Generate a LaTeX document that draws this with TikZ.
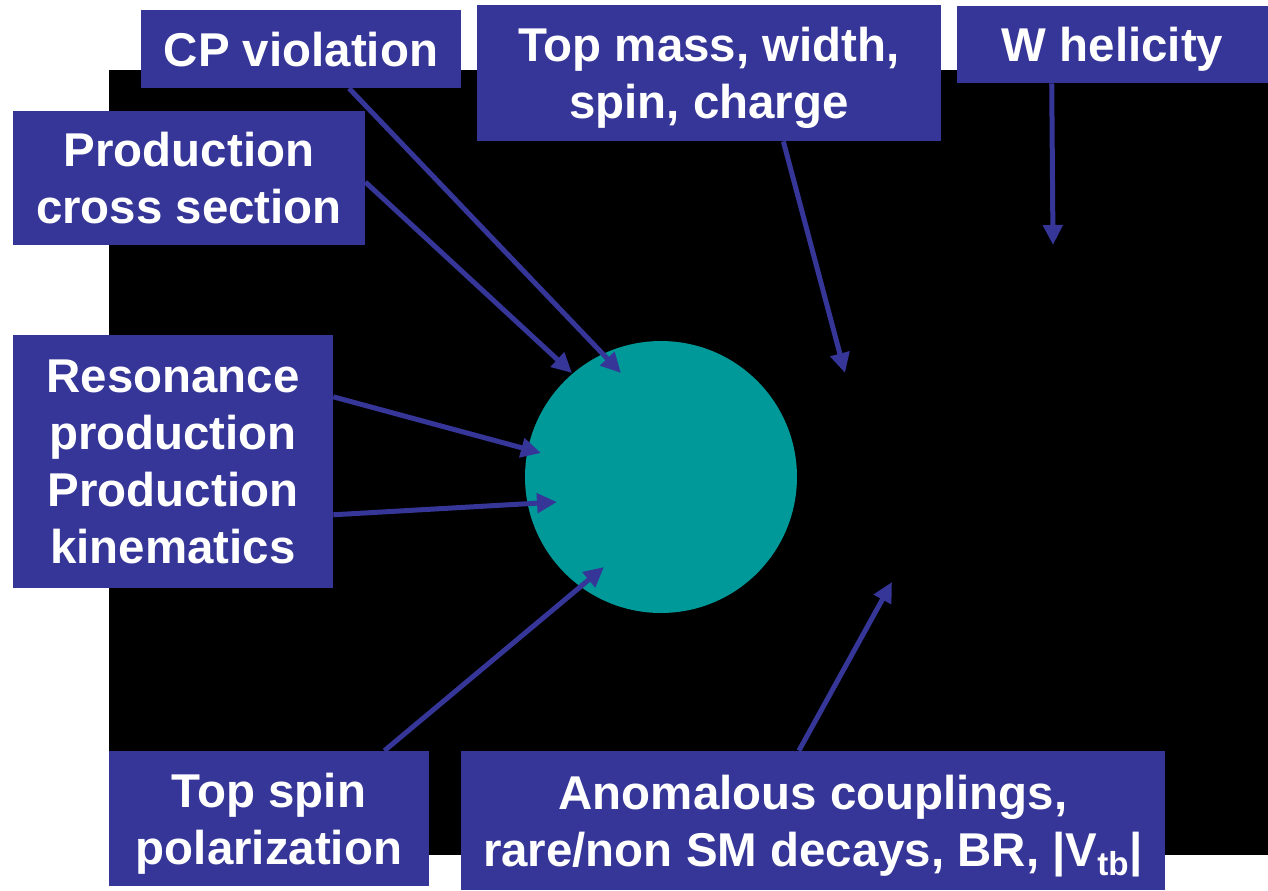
\documentclass[tikz,border=0pt]{standalone}
\usepackage{fontspec}
\setmainfont{Liberation Sans}
\usetikzlibrary{arrows.meta, calc}
\definecolor{boxBlue}{RGB}{54,54,153}
\definecolor{topTeal}{RGB}{0,153,153}

\begin{document}
\begin{tikzpicture}[
    x=0.02cm, y=-0.02cm,
    topic/.style={rectangle, fill=boxBlue, text=white, inner sep=0pt, text depth=0pt, align=center, font=\fontsize{27}{32.5}\selectfont\bfseries},
    arrow/.style={-{Triangle[length=0.4cm, width=0.38cm]}, draw=boxBlue, line width=0.1cm}
]

% page and black backdrop
\useasboundingbox[fill=white] (0,0) rectangle (1268,890);
\fill[black] (109,70) rectangle (1268,855);

% the top quark
\node[circle, fill=topTeal, minimum size=5.44cm, inner sep=0pt] (top) at (661,477) {};

\node[topic, minimum width=6.4cm, minimum height=1.56cm] (cp) at (301,49) {CP violation};

\node[topic, minimum width=7.04cm, minimum height=2.68cm] (xsec) at (189,178) {Production\\cross section};

\node[topic, minimum width=9.28cm, minimum height=2.72cm] (mass) at (709,73) {Top mass, width,\\spin, charge};

\node[topic, minimum width=6.22cm, minimum height=1.54cm] (whel) at (1112.5,44.5) {W helicity};

\node[topic, minimum width=6.4cm, minimum height=5.06cm] (reso) at (173,461.5) {Resonance\\production\\Production\\kinematics};

\node[topic, minimum width=6.4cm, minimum height=2.7cm] (spin) at (269,818.5) {Top spin\\polarization};

\node[topic, minimum width=14.08cm, minimum height=2.78cm] (anom) at (813,820.5) {Anomalous couplings,\\rare/non SM decays, BR, |V\textsubscript{tb}|};

% arrow tips
\coordinate (cpTip) at (621,373);
\coordinate (xsecTip) at (572,373);
\coordinate (resoTip) at (541,453);
\coordinate (kinTip) at (557,502);
\coordinate (spinTip) at (604,567);
\coordinate (anomTip) at (892,582);
\coordinate (massTip) at (845,373);
\coordinate (whelTip) at (1053,245);

\draw[arrow] ($(cp.south west)!0.65!(cp.south east)$) -- (cpTip);
\draw[arrow] ($(xsec.north east)!0.53!(xsec.south east)$) -- (xsecTip);
\draw[arrow] ($(reso.north east)!0.245!(reso.south east)$) -- (resoTip);
\draw[arrow] ($(reso.north east)!0.71!(reso.south east)$) -- (kinTip);
\draw[arrow] ($(spin.north west)!0.86!(spin.north east)$) -- (spinTip);
\draw[arrow] ($(anom.north west)!0.48!(anom.north east)$) -- (anomTip);
\draw[arrow] ($(mass.south west)!0.66!(mass.south east)$) -- (massTip);
\draw[arrow] ($(whel.south west)!0.305!(whel.south east)$) -- (whelTip);

\end{tikzpicture}
\end{document}
